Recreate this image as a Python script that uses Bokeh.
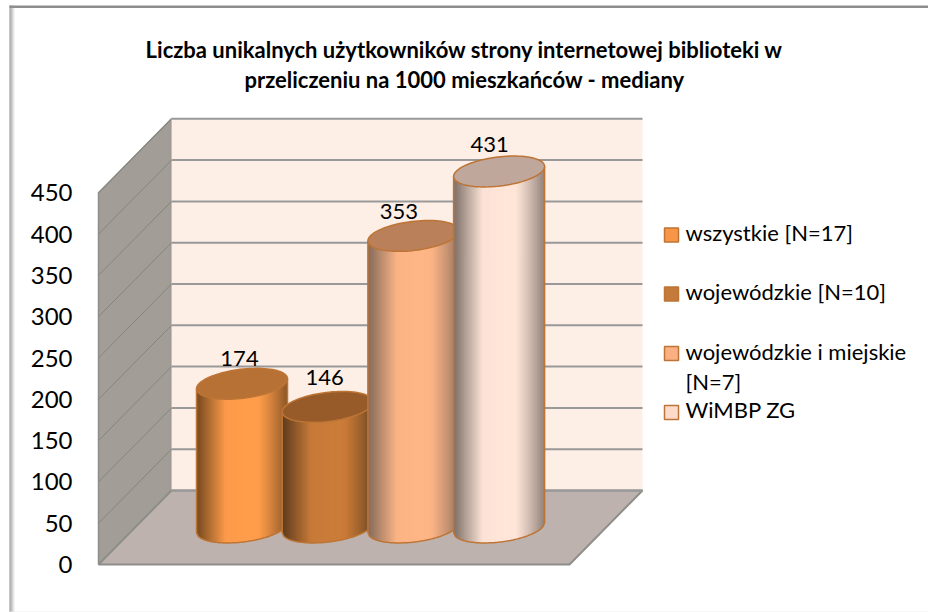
from bokeh.plotting import figure
from bokeh.models import Range1d, LinearAxis, FixedTicker
from bokeh.core.properties import value
from bokeh.embed import file_html
from bokeh.resources import INLINE
import math

# ---- data ----
title_lines = ["Liczba unikalnych użytkowników strony internetowej biblioteki w",
               "przeliczeniu na 1000 mieszkańców - mediany"]
categories = ["wszystkie [N=17]", "wojewódzkie [N=10]", "wojewódzkie i miejskie [N=7]", "WiMBP ZG"]
values = [174, 146, 353, 431]
ticks = [0, 50, 100, 150, 200, 250, 300, 350, 400, 450]

# ---- styles ----
FONT = "Lato"
bright = ["#FF9D4B", "#CB7C39", "#FFB686", "#FFE6D9"]
edge = ["#7E4E22", "#63401F", "#8C6F5E", "#85766E"]
top_c = ["#B87134", "#965B29", "#BA8059", "#BFA79C"]
swatch = ["#F79646", "#C47A38", "#FBB083", "#FCDBCB"]
OUTLINE = "#BD7435"
label_shift = [-2.5, -3, -14.5, -9.5]   # px, data label relative to cylinder axis
label_rise = [25, 29, 24, 27]

# ---- layout (page pixels) ----
W, H = 928, 612
PAGE_X0, PAGE_Y0 = 0, 0
K = 371.7 / 450          # px per value unit
BASE_PY = 564
FRONT_L, FRONT_R = 98, 569
DX = 73                  # depth offset
DV = 74 / K              # depth offset in value units
CX0, CSTEP = 241.5, 85.7
A, B, S = 45.5, 14.6, 5.0

def vy(py):
    return (BASE_PY - py) / K

p = figure(width=W, height=H, output_backend="svg", toolbar_location=None,
           x_range=Range1d(PAGE_X0, PAGE_X0 + W),
           y_range=Range1d(vy(PAGE_Y0 + H), vy(PAGE_Y0)),
           x_axis_location=None, y_axis_location=None, min_border=0,
           outline_line_color=None, background_fill_color="white", border_fill_color="white")
p.grid.visible = False

# chart area frame
for i, c in enumerate(["#8E8E8E", "#A0A0A0", "#B4B4B4", "#CDCDCD", "#E8E8E8"]):
    p.quad(left=9 + i, right=10 + i, bottom=vy(612), top=vy(5), fill_color=c, line_color=None)
p.quad(left=9, right=928, bottom=vy(7.5), top=vy(5), fill_color="#8E8E8E", line_color=None)
p.quad(left=9, right=928, bottom=vy(612), top=vy(611), fill_color="#EEEEEE", line_color=None)

tmax = max(ticks)
# left wall, back wall, floor
p.patch([FRONT_L, FRONT_L + DX, FRONT_L + DX, FRONT_L],
        [0, DV, tmax + DV, tmax], fill_color="#A39D98", line_color="#8E8E8A", line_width=1.5)
p.patch([FRONT_L + DX, FRONT_R + DX, FRONT_R + DX, FRONT_L + DX],
        [DV, DV, tmax + DV, tmax + DV], fill_color="#FDEEE6", line_color=None)
p.patch([FRONT_L, FRONT_R, FRONT_R + DX, FRONT_L + DX],
        [0, 0, DV, DV], fill_color="#BDB2AE", line_color="#8E8E8A", line_width=2)
# grid lines
for t in ticks:
    if t > 0:
        p.line([FRONT_L, FRONT_L + DX], [t, t + DV], line_color="#85857F", line_width=1)
        p.line([FRONT_L + DX, FRONT_R + DX], [t + DV, t + DV], line_color="#999999", line_width=2)
p.line([FRONT_L + DX, FRONT_R + DX], [DV, DV], line_color="#999999", line_width=2)

def hex2rgb(h):
    return tuple(int(h[i:i + 2], 16) for i in (1, 3, 5))

def mix(a, b, w):
    ra, rb = hex2rgb(a), hex2rgb(b)
    return "#%02x%02x%02x" % tuple(round(x + (y - x) * w) for x, y in zip(ra, rb))

def shade(t):
    left = max(0.0, 1 - t / 0.32)
    right = max(0.0, (t - 0.68) / 0.32) ** 1.2 * 0.85
    slow = abs(t - 0.58) * 0.12
    return min(1.0, left + right + slow)

def lower(cx, v_mid, u):
    """Point on the front half of a cylinder rim, u in [-1, 1]."""
    px = cx + A * u
    v = v_mid + (S * u - B * math.sqrt(max(0.0, 1 - u * u))) / K
    return px, v

STRIPS = 60
for i, val in enumerate(values):
    cx = CX0 + CSTEP * i
    v_base = DV / 2
    v_top = val + DV / 2
    for s in range(STRIPS):
        u0 = -1 + 2 * s / STRIPS
        steps = 8
        us = [min(1.0, u0 + 2 * (s0 / steps) * 2 / STRIPS) for s0 in range(steps + 1)]
        bottom = [lower(cx, v_base, u) for u in us]
        top = [lower(cx, v_top, u) for u in us]
        col = mix(bright[i], edge[i], shade((s + 0.5) / STRIPS))
        p.patch([q[0] for q in bottom] + [q[0] for q in reversed(top)],
                [q[1] for q in bottom] + [q[1] for q in reversed(top)],
                fill_color=col, line_color=None)
    # outline of body
    us = [-1 + 2 * k / 60 for k in range(61)]
    ox = [lower(cx, v_top, -1)[0]] + [lower(cx, v_base, u)[0] for u in us] + [lower(cx, v_top, 1)[0]]
    oy = [lower(cx, v_top, -1)[1]] + [lower(cx, v_base, u)[1] for u in us] + [lower(cx, v_top, 1)[1]]
    p.line(ox, oy, line_color=OUTLINE, line_width=1.5)
    # top ellipse
    angs = [2 * math.pi * k / 90 for k in range(90)]
    ex = [cx + A * math.cos(a) for a in angs]
    ey = [v_top + (S * math.cos(a) + B * math.sin(a)) / K for a in angs]
    p.patch(ex, ey, fill_color=top_c[i], line_color=OUTLINE, line_width=1.5)

# data labels
for i, val in enumerate(values):
    p.text([CX0 + CSTEP * i + label_shift[i]], [val + DV / 2 + label_rise[i] / K], text=[str(val)],
           text_font=value(FONT), text_font_size="22px", text_color="#000000",
           text_align="center", text_baseline="middle")

# title
for txt, py in zip(title_lines, [48.5, 78.5]):
    p.text([464], [vy(py)], text=[txt], text_font=value(FONT), text_font_style="bold",
           text_font_size="22px", text_color="#000000", text_align="center", text_baseline="middle")

# legend
leg_py = [234.5, 293.5, 353, 412]
for py, c in zip(leg_py, swatch):
    p.quad(left=664, right=678, bottom=vy(py + 7), top=vy(py - 7), fill_color=c,
           line_color=OUTLINE, line_width=1.5)
leg_lines = [(categories[0], 232), (categories[1], 291), ("wojewódzkie i miejskie", 351),
             ("[N=7]", 381), (categories[3], 409)]
for txt, py in leg_lines:
    p.text([685], [vy(py)], text=[txt], text_font=value(FONT), text_font_size="22px",
           text_color="#000000", text_align="left", text_baseline="middle")

# value axis
ax = LinearAxis(fixed_location=FRONT_L, ticker=FixedTicker(ticks=ticks),
                axis_line_color=None, major_tick_line_color=None, minor_tick_line_color=None,
                major_label_text_font=FONT, major_label_text_font_size="24px",
                major_label_text_color="#000000", major_label_standoff=20)
p.add_layout(ax, "left")

open("out.html", "w").write(file_html(p, INLINE))
